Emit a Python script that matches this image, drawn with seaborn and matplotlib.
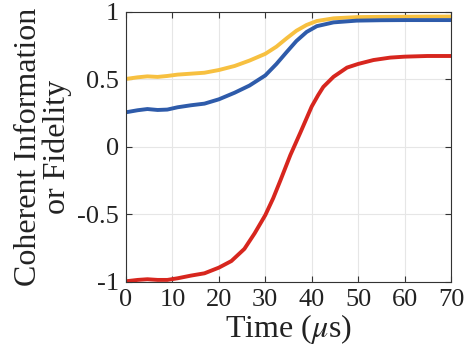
import numpy as np
import pandas as pd
import seaborn as sns
import matplotlib
matplotlib.use("Agg")
import matplotlib.pyplot as plt

# values (time in microseconds)
t_yellow = [0, 2.5, 4.6, 6.8, 8.9, 11.1, 14, 16.9, 20, 23.4, 26.6, 30, 32.4, 34.6, 36.7, 38.9,
            41.1, 44.7, 49.7, 55, 60, 65, 70]
v_yellow = [0.504, 0.516, 0.523, 0.519, 0.526, 0.536, 0.543, 0.55, 0.57, 0.60, 0.64, 0.69, 0.743,
            0.805, 0.861, 0.904, 0.933, 0.953, 0.962, 0.964, 0.965, 0.966, 0.966]

t_blue = [0, 2.5, 4.6, 6.8, 8.9, 11.1, 14, 16.9, 20, 23.4, 26.6, 30, 32.4, 34.6, 36.7, 38.9,
          41.1, 44.7, 49.7, 55, 60, 65, 70]
v_blue = [0.257, 0.272, 0.281, 0.274, 0.277, 0.294, 0.309, 0.321, 0.353, 0.402, 0.455, 0.53, 0.615,
          0.703, 0.785, 0.852, 0.895, 0.923, 0.936, 0.939, 0.94, 0.94, 0.94]

t_red = [0, 2.5, 4.6, 6.8, 8.9, 11.1, 14, 16.9, 20, 22.7, 25.5, 27.7, 30, 31.7, 33.3, 35.4, 37.6,
         40, 41.4, 42.5, 44.7, 47.6, 50, 53.3, 56.9, 60, 64.9, 70]
v_red = [-0.995, -0.985, -0.98, -0.985, -0.985, -0.973, -0.953, -0.936, -0.894, -0.845, -0.755,
         -0.64, -0.505, -0.38, -0.244, -0.06, 0.11, 0.30, 0.385, 0.445, 0.52, 0.588, 0.615, 0.644,
         0.662, 0.669, 0.674, 0.674]

colors = {"yellow": "#F7C040", "blue": "#2E5BAA", "red": "#D7261E"}

df = pd.concat([
    pd.DataFrame({"time": t_yellow, "value": v_yellow, "series": "yellow"}),
    pd.DataFrame({"time": t_blue, "value": v_blue, "series": "blue"}),
    pd.DataFrame({"time": t_red, "value": v_red, "series": "red"}),
], ignore_index=True)

sns.set_style("ticks")
plt.rcParams["font.family"] = ["Liberation Serif", "DejaVu Serif"]
plt.rcParams["mathtext.fontset"] = "stix"
plt.rcParams["axes.unicode_minus"] = False

fig = plt.figure(figsize=(4.69, 3.61), dpi=100)
ax = fig.add_axes([0.2687, 0.219, 0.6929, 0.7478])

sns.lineplot(data=df, x="time", y="value", hue="series", palette=colors,
             linewidth=2.8, legend=False, ax=ax, sort=False)

ax.set_xlim(0, 70)
ax.set_ylim(-1, 1)
ax.set_xticks(range(0, 71, 10))
ax.set_yticks([-1, -0.5, 0, 0.5, 1])
ax.set_yticklabels(["-1", "-0.5", "0", "0.5", "1"])
ax.grid(True, color="#e6e6e6", linewidth=0.8)
ax.set_axisbelow(True)
for s in ax.spines.values():
    s.set_color("#333333")
    s.set_linewidth(0.8)
ax.tick_params(direction="in", top=True, right=True, labelsize=19, length=4,
               color="#333333", labelcolor="#222222", pad=5)

ax.set_xlabel(r"Time ($\mu$s)", fontsize=23, color="#222222", labelpad=1)
ax.set_ylabel("Coherent Information\nor Fidelity", fontsize=23, color="#222222",
              linespacing=0.95, labelpad=4)

fig.savefig("out.png", dpi=100)
